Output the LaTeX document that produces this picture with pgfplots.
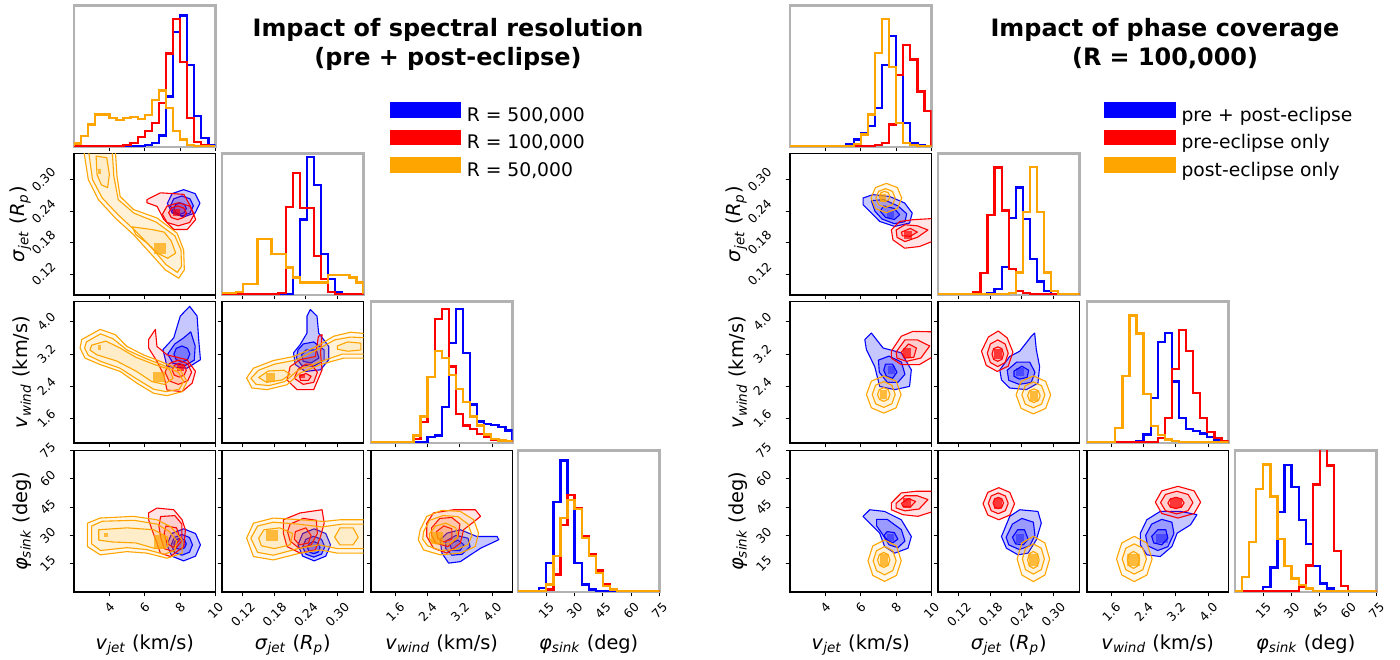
\documentclass[border=0pt]{standalone}
\usepackage{fontspec}
\setmainfont{DejaVu Sans}
\usepackage{graphicx}
\usepackage{pgfplots}
\pgfplotsset{compat=1.18}
\definecolor{mplorange}{RGB}{255,165,0}
\newcommand{\rt}[1]{\rotatebox{45}{#1}}
\newcommand{\tickfont}{\fontsize{6.2}{7}\selectfont}
\newcommand{\labfont}{\fontsize{9.7}{11}\selectfont}
\newcommand{\LabV}{\textit{v}\textsubscript{\textit{jet}} (km/s)}
\newcommand{\LabS}{\textit{σ}\textsubscript{\textit{jet}} (\textit{R}\textsubscript{\textit{p}})}
\newcommand{\LabW}{\textit{v}\textsubscript{\textit{wind}} (km/s)}
\newcommand{\LabP}{\textit{φ}\textsubscript{\textit{sink}} (deg)}

\tikzset{
  hb/.style={const plot, blue, line width=1.15bp},
  hr/.style={const plot, red, line width=1.15bp},
  ho/.style={const plot, mplorange, line width=1.15bp},
  cb/.style={blue, line width=0.55bp, line join=round, fill=blue, fill opacity=0.22},
  cr/.style={red, line width=0.55bp, line join=round, fill=red, fill opacity=0.1},
  co/.style={mplorange, line width=0.55bp, line join=round, fill=mplorange, fill opacity=0.08},
  qb/.style={draw=none, fill=blue, fill opacity=0.4},
  qr/.style={draw=none, fill=red, fill opacity=0.7},
  qo/.style={draw=none, fill=mplorange, fill opacity=0.7},
}

\pgfplotsset{
  cp/.style={scale only axis, width=70.75bp, height=70.75bp, anchor=south west,
    tick pos=left, tick align=outside, major tick length=2.2bp,
    tick style={black, line width=0.5bp},
    axis line style={line width=0.6bp},
    /pgf/number format/assume math mode=true,
    ticklabel style={font=\tickfont, inner sep=0pt},
    xticklabel style={anchor=north}, yticklabel style={anchor=east},
    xticklabel shift=2.55bp, yticklabel shift=6.3bp,
    xticklabels={}, yticklabels={},
    every axis x label/.style={at={(0.5,-0.3)}, anchor=north, inner sep=0pt, font=\labfont},
    every axis y label/.style={at={(-0.3,0.5)}, rotate=90, anchor=south, inner sep=0pt, font=\labfont}},
  diag/.style={cp, axis line style={draw=black!30, line width=1.1bp},
    xmin=0, xmax=20, ymin=-3, ymax=425, ytick=\empty},
  dv/.style={diag, xtick={5,10,15,20}},
  ds/.style={diag, xtick={2.963,7.407,11.852,16.296}},
  dw/.style={diag, xtick={3.429,8,12.571,17.143}},
  dp/.style={diag, xtick={4,8,12,16,20}},
  vx/.style={cp, xmin=2, xmax=10, xtick={4,6,8,10}},
  sx/.style={cp, xmin=0.08, xmax=0.35, xtick={0.12,0.18,0.24,0.30}},
  wx/.style={cp, xmin=1, xmax=4.5, xtick={1.6,2.4,3.2,4.0}},
  sy/.style={ymin=0.08, ymax=0.35, ytick={0.12,0.18,0.24,0.30}},
  wy/.style={ymin=1, ymax=4.5, ytick={1.6,2.4,3.2,4.0}},
  py/.style={ymin=0, ymax=75, ytick={15,30,45,60,75}},
  vxl/.style={xticklabels={\rt{4},\rt{6},\rt{8},\rt{10}}, xlabel={\LabV}},
  sxl/.style={xticklabels={\rt{0.12},\rt{0.18},\rt{0.24},\rt{0.30}}, xlabel={\LabS}},
  wxl/.style={xticklabels={\rt{1.6},\rt{2.4},\rt{3.2},\rt{4.0}}, xlabel={\LabW}},
  pxl/.style={xticklabels={\rt{15},\rt{30},\rt{45},\rt{60},\rt{75}}, xlabel={\LabP}},
  syl/.style={yticklabels={\rt{0.12},\rt{0.18},\rt{0.24},\rt{0.30}}, ylabel={\LabS}},
  wyl/.style={yticklabels={\rt{1.6},\rt{2.4},\rt{3.2},\rt{4.0}}, ylabel={\LabW}},
  pyl/.style={yticklabels={\rt{15},\rt{30},\rt{45},\rt{60},\rt{75}}, ylabel={\LabP}},
  leg/.style={legend style={at={(#1,0.323)}, anchor=north west, draw=none, fill=none,
      inner sep=0pt, font=\fontsize{9.4}{11}\selectfont, row sep=2.25bp,
      nodes={inner sep=0pt, text height=7bp, text depth=2bp},
      /tikz/every odd column/.append style={column sep=3bp}},
    legend cell align=left,
    legend image code/.code={\fill[##1] (0bp,-0.2bp) rectangle (34.5bp,6.6bp);}},
}

\begin{document}
\begin{tikzpicture}
\useasboundingbox (0,0) rectangle (700bp,330bp);

% ---------------- left corner: spectral resolution ----------------
\node[anchor=base, font=\fontsize{12}{14}\selectfont\bfseries] at (224bp,311.75bp) {Impact of spectral resolution};
\node[anchor=base, font=\fontsize{12}{14}\selectfont\bfseries] at (224bp,297.25bp) {(pre + post-eclipse)};

\begin{axis}[dv, at={(37bp,256.5bp)}, leg=2.227]
\addplot[hb] coordinates {(0,0) (10,3) (11,10) (12,32) (13,150) (14,345) (15,395) (16,245) (17,90) (18,25) (19,4) (20,0)};
\addlegendentry{R = 500,000}
\addplot[hr] coordinates {(0,0) (7,3) (8,10) (9,28) (10,45) (11,70) (12,130) (13,280) (14,385) (15,255) (16,85) (17,12) (18,4) (19,0) (20,0)};
\addlegendentry{R = 100,000}
\addplot[ho] coordinates {(0,0) (0,8) (1,30) (2,65) (3,95) (4,95) (5,85) (6,78) (7,85) (8,88) (9,82) (10,93) (11,140) (12,168) (13,115) (14,45) (15,20) (16,3) (17,0) (20,0)};
\addlegendentry{R = 50,000}
\end{axis}

\begin{axis}[vx, sy, syl, at={(37bp,182.5bp)}]
\addplot[cb] coordinates {(9.12,0.255) (8.85,0.2735) (8.2,0.281) (7.55,0.2735) (7.28,0.255) (7.55,0.2365) (8.2,0.229) (8.85,0.2365)} --cycle;
\addplot[cb] coordinates {(8.75,0.25) (8.56,0.2635) (8.1,0.269) (7.64,0.2635) (7.45,0.25) (7.64,0.2365) (8.1,0.231) (8.56,0.2365)} --cycle;
\addplot[cb] coordinates {(8.35,0.245) (8.25,0.2528) (8.0,0.256) (7.75,0.2528) (7.65,0.245) (7.75,0.2372) (8.0,0.234) (8.25,0.2372)} --cycle;
\addplot[cr] coordinates {(6.13,0.262) (6.89,0.275) (8.21,0.272) (8.59,0.249) (8.88,0.224) (8.40,0.205) (7.64,0.205) (7.08,0.224) (6.70,0.249) (6.13,0.256)} --cycle;
\addplot[cr] coordinates {(8.8,0.234) (8.54,0.2496) (7.9,0.256) (7.26,0.2496) (7.0,0.234) (7.26,0.2184) (7.9,0.212) (8.54,0.2184)} --cycle;
\addplot[cr] coordinates {(8.35,0.237) (8.2,0.2462) (7.85,0.25) (7.5,0.2462) (7.35,0.237) (7.5,0.2278) (7.85,0.224) (8.2,0.2278)} --cycle;
\addplot[qr] coordinates {(7.6,0.23) (8.0,0.23) (8.0,0.245) (7.6,0.245)} --cycle;
\addplot[co] coordinates {(2.53,0.36) (2.81,0.30) (3.38,0.262) (4.33,0.227) (5.37,0.195) (6.31,0.160) (7.16,0.128) (7.92,0.112) (8.24,0.128) (8.20,0.166) (7.83,0.198) (6.69,0.227) (5.37,0.243) (4.61,0.268) (4.43,0.307) (4.33,0.36)} --cycle;
\addplot[co] coordinates {(2.8,0.36) (3.05,0.30) (3.6,0.265) (4.5,0.233) (5.45,0.203) (6.4,0.17) (7.2,0.138) (7.85,0.123) (8.08,0.135) (8.05,0.166) (7.7,0.193) (6.65,0.219) (5.4,0.236) (4.5,0.262) (4.25,0.307) (4.15,0.36)} --cycle;
\addplot[co] coordinates {(3.25,0.345) (3.85,0.342) (4.0,0.31) (3.9,0.285) (3.55,0.29) (3.3,0.31)} --cycle;
\addplot[co] coordinates {(5.3,0.21) (6.4,0.205) (7.1,0.2) (7.5,0.183) (7.75,0.16) (7.3,0.15) (6.7,0.16) (6.1,0.18) (5.5,0.195)} --cycle;
\addplot[qo] coordinates {(6.55,0.159) (7.2,0.159) (7.2,0.18) (6.55,0.18)} --cycle;
\addplot[qo] coordinates {(3.35,0.311) (3.55,0.311) (3.55,0.321) (3.35,0.321)} --cycle;
\end{axis}

\begin{axis}[ds, at={(111bp,182.5bp)}]
\addplot[hb] coordinates {(0,0) (10,50) (11,225) (12,415) (13,330) (14,120) (15,45) (16,5) (17,0) (20,0)};
\addplot[hr] coordinates {(0,0) (8,3) (9,263) (10,367) (11,260) (12,260) (13,115) (14,45) (15,5) (16,0) (20,0)};
\addplot[ho] coordinates {(0,0) (0,2) (2,5) (3,30) (5,167) (7,120) (9,80) (10,50) (11,35) (15,57) (18,50) (19,35) (20,0)};
\end{axis}

\begin{axis}[vx, wy, wyl, at={(37bp,108.5bp)}]
\addplot[cb] coordinates {(8.54,4.38) (8.96,4.14) (9.05,3.56) (9.15,3.06) (8.39,2.85) (7.26,2.89) (7.03,3.31) (7.64,3.60) (8.01,4.14)} --cycle;
\addplot[cb] coordinates {(8.6,3.75) (8.85,3.4) (8.8,3.05) (8.3,2.92) (7.6,2.97) (7.3,3.2) (7.7,3.45) (8.2,3.6)} --cycle;
\addplot[cb] coordinates {(8.55,3.2) (8.42,3.34) (8.1,3.4) (7.78,3.34) (7.65,3.2) (7.78,3.06) (8.1,3.0) (8.42,3.06)} --cycle;
\addplot[cr] coordinates {(6.22,3.56) (6.60,3.81) (6.69,3.39) (7.26,3.18) (8.39,3.06) (8.87,2.77) (8.68,2.48) (8.11,2.27) (7.26,2.31) (7.07,2.69) (6.69,3.02) (6.22,3.35)} --cycle;
\addplot[cr] coordinates {(8.65,2.75) (8.43,2.96) (7.9,3.05) (7.37,2.96) (7.15,2.75) (7.37,2.54) (7.9,2.45) (8.43,2.54)} --cycle;
\addplot[cr] coordinates {(8.35,2.8) (8.23,2.92) (7.95,2.97) (7.67,2.92) (7.55,2.8) (7.67,2.68) (7.95,2.63) (8.23,2.68)} --cycle;
\addplot[qr] coordinates {(7.85,2.78) (8.2,2.78) (8.2,2.92) (7.85,2.92)} --cycle;
\addplot[co] coordinates {(2.44,3.56) (3.48,3.81) (4.33,3.68) (4.99,3.39) (5.93,3.18) (6.88,3.02) (8.01,2.81) (8.39,2.52) (8.11,2.27) (7.26,2.17) (6.50,2.23) (5.56,2.48) (4.61,2.77) (3.48,2.94) (2.62,3.10) (2.34,3.35)} --cycle;
\addplot[co] coordinates {(2.7,3.5) (3.5,3.7) (4.2,3.58) (5.0,3.3) (6.0,3.1) (7.0,2.93) (7.9,2.75) (8.2,2.52) (7.95,2.33) (7.2,2.27) (6.5,2.33) (5.6,2.57) (4.6,2.85) (3.5,3.02) (2.8,3.17) (2.6,3.35)} --cycle;
\addplot[co] coordinates {(3.0,3.42) (3.8,3.52) (4.6,3.35) (5.5,3.12) (6.5,2.95) (7.4,2.82) (7.6,2.6) (7.1,2.45) (6.4,2.52) (5.5,2.78) (4.4,3.03) (3.3,3.18) (2.9,3.3)} --cycle;
\addplot[qo] coordinates {(6.45,2.5) (7.15,2.5) (7.15,2.75) (6.45,2.75)} --cycle;
\addplot[qo] coordinates {(3.35,3.3) (3.55,3.3) (3.55,3.42) (3.35,3.42)} --cycle;
\end{axis}

\begin{axis}[sx, wy, at={(111bp,108.5bp)}]
\addplot[cb] coordinates {(0.2485,4.30) (0.2613,4.14) (0.2644,3.72) (0.2836,3.39) (0.2836,3.06) (0.268,2.81) (0.239,2.77) (0.2198,2.94) (0.2165,3.23) (0.229,3.43) (0.2422,3.72) (0.2422,4.14)} --cycle;
\addplot[cb] coordinates {(0.235,3.45) (0.255,3.5) (0.275,3.3) (0.275,3.05) (0.255,2.9) (0.232,2.92) (0.222,3.1) (0.225,3.3)} --cycle;
\addplot[cb] coordinates {(0.24,3.3) (0.26,3.3) (0.265,3.1) (0.25,2.98) (0.235,3.02) (0.232,3.18)} --cycle;
\addplot[cr] coordinates {(0.271,3.68) (0.268,3.23) (0.271,2.81) (0.255,2.32) (0.223,2.32) (0.204,2.56) (0.210,2.89) (0.229,3.06) (0.258,3.14) (0.264,3.64)} --cycle;
\addplot[cr] coordinates {(0.25,2.95) (0.262,2.75) (0.255,2.5) (0.235,2.45) (0.218,2.6) (0.225,2.82) (0.24,2.95)} --cycle;
\addplot[cr] coordinates {(0.24,2.72) (0.25,2.65) (0.245,2.55) (0.23,2.55) (0.228,2.65)} --cycle;
\addplot[qr] coordinates {(0.226,2.6) (0.238,2.6) (0.238,2.7) (0.226,2.7)} --cycle;
\addplot[co] coordinates {(0.127,2.61) (0.140,2.85) (0.178,3.04) (0.217,3.14) (0.261,3.39) (0.293,3.64) (0.325,3.74) (0.36,3.70) (0.36,3.10) (0.312,3.10) (0.268,2.94) (0.229,2.73) (0.204,2.44) (0.166,2.32) (0.137,2.36)} --cycle;
\addplot[co] coordinates {(0.135,2.6) (0.15,2.8) (0.18,2.95) (0.22,3.05) (0.26,3.3) (0.295,3.55) (0.325,3.62) (0.36,3.6) (0.36,3.2) (0.31,3.2) (0.265,3.0) (0.225,2.8) (0.20,2.52) (0.17,2.42) (0.145,2.45)} --cycle;
\addplot[co] coordinates {(0.15,2.62) (0.168,2.78) (0.198,2.8) (0.21,2.7) (0.195,2.56) (0.165,2.5)} --cycle;
\addplot[co] coordinates {(0.30,3.4) (0.32,3.5) (0.345,3.47) (0.345,3.3) (0.32,3.27) (0.30,3.32)} --cycle;
\addplot[qo] coordinates {(0.163,2.52) (0.182,2.52) (0.182,2.73) (0.163,2.73)} --cycle;
\end{axis}

\begin{axis}[dw, at={(185.5bp,108.5bp)}]
\addplot[hb] coordinates {(0,0) (8,15) (9,20) (10,105) (11,300) (12,403) (13,270) (14,113) (15,62) (16,55) (17,52) (18,45) (19,35) (20,0)};
\addplot[hr] coordinates {(0,0) (6,10) (7,60) (8,197) (9,372) (10,403) (11,228) (12,85) (13,50) (14,40) (15,25) (16,15) (17,8) (18,4) (19,3) (20,0)};
\addplot[ho] coordinates {(0,0) (6,20) (7,77) (8,197) (9,275) (10,255) (11,202) (12,160) (13,120) (14,77) (15,50) (16,23) (17,10) (18,5) (19,3) (20,0)};
\end{axis}

\begin{axis}[vx, py, vxl, pyl, at={(37bp,34bp)}]
\addplot[cb] coordinates {(9.15,25) (8.87,31) (8.2,33.5) (7.53,31) (7.25,25) (7.53,19) (8.2,16.5) (8.87,19)} --cycle;
\addplot[cb] coordinates {(8.7,25) (8.53,28.9) (8.1,30.5) (7.67,28.9) (7.5,25) (7.67,21.1) (8.1,19.5) (8.53,21.1)} --cycle;
\addplot[cb] coordinates {(8.35,25.5) (8.25,27.6) (8.0,28.5) (7.75,27.6) (7.65,25.5) (7.75,23.4) (8.0,22.5) (8.25,23.4)} --cycle;
\addplot[cr] coordinates {(6.22,41.9) (6.69,44.5) (7.64,43.6) (8.11,38.3) (8.30,33.0) (8.21,24.1) (7.45,18.8) (6.88,20.6) (6.69,25.9) (6.41,33.0) (6.22,38.3)} --cycle;
\addplot[cr] coordinates {(6.9,40) (7.7,40.5) (8.1,36) (8.1,27) (7.6,21.5) (7.1,23) (6.9,29) (6.8,35)} --cycle;
\addplot[cr] coordinates {(7.2,35) (7.8,34) (8.0,28) (7.6,23.5) (7.25,26) (7.1,31)} --cycle;
\addplot[co] coordinates {(2.76,36.5) (3.48,39.2) (5.37,40.1) (6.69,38.3) (7.45,34.7) (8.11,27.7) (8.11,20.6) (7.26,17.9) (6.13,20.6) (4.99,21.4) (3.48,19.7) (2.76,24.1)} --cycle;
\addplot[co] coordinates {(3.0,35) (3.6,37.5) (5.4,38) (6.7,36) (7.4,32) (7.8,27) (7.7,22) (7.1,20) (6.1,22.5) (5.0,23.5) (3.5,22) (3.0,25.5)} --cycle;
\addplot[co] coordinates {(3.4,33) (5.0,34) (6.5,33) (7.3,29) (7.3,24) (6.6,23) (5.5,26) (4.2,26.5) (3.4,27.5)} --cycle;
\addplot[qo] coordinates {(6.5,23) (7.2,23) (7.2,30) (6.5,30)} --cycle;
\addplot[qo] coordinates {(3.7,29) (3.9,29) (3.9,31.5) (3.7,31.5)} --cycle;
\end{axis}

\begin{axis}[sx, py, sxl, at={(111bp,34bp)}]
\addplot[cb] coordinates {(0.287,25) (0.278,31) (0.256,33.5) (0.234,31) (0.225,25) (0.234,19) (0.256,16.5) (0.278,19)} --cycle;
\addplot[cb] coordinates {(0.276,24) (0.27,27.9) (0.255,29.5) (0.24,27.9) (0.234,24) (0.24,20.1) (0.255,18.5) (0.27,20.1)} --cycle;
\addplot[cb] coordinates {(0.267,23.5) (0.2635,25.8) (0.255,26.7) (0.2465,25.8) (0.243,23.5) (0.2465,21.2) (0.255,20.3) (0.2635,21.2)} --cycle;
\addplot[cr] coordinates {(0.197,38.3) (0.229,41.9) (0.271,43.6) (0.275,36.5) (0.268,29.4) (0.258,22.3) (0.229,20.6) (0.204,24.1) (0.197,31.2)} --cycle;
\addplot[cr] coordinates {(0.21,36) (0.235,39) (0.26,38) (0.262,31) (0.25,25) (0.228,23) (0.21,27) (0.205,32)} --cycle;
\addplot[cr] coordinates {(0.22,32) (0.24,34) (0.25,30) (0.245,26) (0.228,25) (0.218,28)} --cycle;
\addplot[co] coordinates {(0.127,28.6) (0.140,36.5) (0.178,39.2) (0.229,38.3) (0.274,37.4) (0.306,38.3) (0.36,38.3) (0.36,20.6) (0.300,20.6) (0.268,22.3) (0.229,20.6) (0.178,17.0) (0.140,18.8)} --cycle;
\addplot[co] coordinates {(0.135,28.5) (0.148,35) (0.178,37) (0.225,36) (0.27,34.5) (0.31,36) (0.36,36) (0.36,23) (0.30,23) (0.265,25) (0.225,23) (0.178,19.5) (0.148,21)} --cycle;
\addplot[co] coordinates {(0.15,28.5) (0.16,33) (0.19,34) (0.215,31) (0.21,25) (0.18,23) (0.155,24.5)} --cycle;
\addplot[co] coordinates {(0.295,29) (0.305,34) (0.33,34) (0.34,29) (0.33,25) (0.305,25)} --cycle;
\addplot[qo] coordinates {(0.163,27) (0.186,27) (0.186,33) (0.163,33)} --cycle;
\end{axis}

\begin{axis}[wx, py, wxl, at={(185.5bp,34bp)}]
\addplot[cb] coordinates {(2.71,27.7) (2.88,31.2) (3.21,33.0) (3.62,29.4) (4.12,29.4) (4.16,27.7) (3.71,23.2) (3.21,16.1) (2.92,15.3) (2.755,20.6)} --cycle;
\addplot[cb] coordinates {(2.85,27) (3.1,30) (3.4,28.5) (3.45,24) (3.25,20) (3.0,19.5) (2.85,23)} --cycle;
\addplot[cb] coordinates {(2.95,25.5) (3.15,27.5) (3.3,25) (3.2,22) (3.0,22)} --cycle;
\addplot[cr] coordinates {(2.38,36.5) (2.546,41.9) (3.04,43.6) (3.58,43.6) (3.71,40.1) (3.50,36.5) (3.29,33.0) (3.21,25.9) (2.88,20.6) (2.546,23.2) (2.38,29.4)} --cycle;
\addplot[cr] coordinates {(2.5,34) (2.7,39) (3.0,39.5) (3.2,36) (3.15,29) (2.9,24) (2.6,26) (2.5,30)} --cycle;
\addplot[cr] coordinates {(2.62,32) (2.8,35) (3.0,33.5) (3.0,28) (2.8,26.5) (2.65,28.5)} --cycle;
\addplot[co] coordinates {(2.216,33.0) (2.38,40.1) (2.755,43.3) (3.21,42.7) (3.54,38.3) (3.66,31.2) (3.58,24.1) (3.21,20.6) (2.71,19.7) (2.30,22.3) (2.17,27.7)} --cycle;
\addplot[co] coordinates {(2.3,32) (2.45,38) (2.78,40.5) (3.15,40) (3.4,36) (3.5,30) (3.4,25) (3.1,22.5) (2.72,22) (2.4,24.5) (2.28,28)} --cycle;
\addplot[co] coordinates {(2.45,31) (2.6,35) (2.85,36.5) (3.1,34) (3.15,29) (2.95,25.5) (2.6,25.5) (2.45,28)} --cycle;
\addplot[qo] coordinates {(2.48,25.5) (2.78,25.5) (2.78,32) (2.48,32)} --cycle;
\end{axis}

\begin{axis}[dp, pxl, at={(259bp,34bp)}]
\addplot[hb] coordinates {(0,0) (3,10) (4,85) (5,270) (6,395) (7,290) (8,85) (9,20) (10,5) (11,0) (20,0)};
\addplot[hr] coordinates {(0,0) (4,5) (5,50) (6,200) (7,290) (8,250) (9,165) (10,110) (11,62) (12,20) (13,5) (14,0) (20,0)};
\addplot[ho] coordinates {(0,0) (4,20) (5,105) (6,220) (7,275) (8,248) (9,160) (10,105) (11,55) (12,15) (13,5) (14,0) (20,0)};
\end{axis}

% ---------------- right corner: phase coverage ----------------
\node[anchor=base, font=\fontsize{12}{14}\selectfont\bfseries] at (582.5bp,311.75bp) {Impact of phase coverage};
\node[anchor=base, font=\fontsize{12}{14}\selectfont\bfseries] at (582.5bp,297.25bp) {(R = 100,000)};

\begin{axis}[dv, at={(395bp,256.5bp)}, leg=2.218]
\addplot[hb] coordinates {(0,0) (8,5) (9,20) (10,40) (11,60) (12,115) (13,245) (14,332) (15,215) (16,70) (17,10) (18,3) (19,0) (20,0)};
\addlegendentry{pre + post-eclipse}
\addplot[hr] coordinates {(0,0) (12,3) (13,10) (14,65) (15,215) (16,305) (17,262) (18,165) (19,105) (20,0)};
\addlegendentry{pre-eclipse only}
\addplot[ho] coordinates {(0,0) (9,5) (10,35) (11,95) (12,282) (13,385) (14,240) (15,70) (16,10) (17,3) (18,0) (20,0)};
\addlegendentry{post-eclipse only}
\end{axis}

\begin{axis}[vx, sy, syl, at={(395bp,182.5bp)}]
\addplot[cb] coordinates {(6.13,0.265) (6.69,0.2715) (7.63,0.268) (8.48,0.2556) (8.91,0.2364) (8.76,0.2173) (7.92,0.2108) (7.07,0.2204) (6.60,0.2364) (6.13,0.2523)} --cycle;
\addplot[cb] coordinates {(6.6,0.26) (7.3,0.262) (8.1,0.25) (8.6,0.235) (8.5,0.22) (7.9,0.216) (7.2,0.225) (6.8,0.24)} --cycle;
\addplot[cb] coordinates {(7.3,0.25) (7.9,0.245) (8.2,0.233) (7.9,0.224) (7.4,0.228) (7.1,0.24)} --cycle;
\addplot[qb] coordinates {(7.5,0.226) (7.9,0.226) (7.9,0.24) (7.5,0.24)} --cycle;
\addplot[cr] coordinates {(7.73,0.2045) (8.20,0.2204) (8.95,0.2236) (10.1,0.226) (10.1,0.183) (9.32,0.1725) (8.48,0.1693) (7.82,0.1853)} --cycle;
\addplot[cr] coordinates {(8.0,0.204) (8.5,0.214) (9.2,0.212) (9.8,0.204) (9.2,0.19) (8.5,0.182) (8.05,0.19)} --cycle;
\addplot[cr] coordinates {(8.3,0.2) (8.8,0.207) (9.2,0.2) (8.8,0.192) (8.35,0.193)} --cycle;
\addplot[qr] coordinates {(8.45,0.187) (8.9,0.187) (8.9,0.203) (8.45,0.203)} --cycle;
\addplot[co] coordinates {(8.32,0.265) (8.07,0.285) (7.45,0.293) (6.83,0.285) (6.58,0.265) (6.83,0.245) (7.45,0.237) (8.07,0.245)} --cycle;
\addplot[co] coordinates {(7.95,0.265) (7.79,0.2778) (7.4,0.283) (7.01,0.2778) (6.85,0.265) (7.01,0.2522) (7.4,0.247) (7.79,0.2522)} --cycle;
\addplot[co] coordinates {(7.65,0.268) (7.56,0.275) (7.35,0.278) (7.14,0.275) (7.05,0.268) (7.14,0.261) (7.35,0.258) (7.56,0.261)} --cycle;
\addplot[qo] coordinates {(7.1,0.258) (7.45,0.258) (7.45,0.272) (7.1,0.272)} --cycle;
\end{axis}

\begin{axis}[ds, at={(469bp,182.5bp)}]
\addplot[hb] coordinates {(0,0) (7,3) (8,15) (9,82) (10,230) (11,322) (12,227) (13,105) (14,38) (15,10) (16,0) (20,0)};
\addplot[hr] coordinates {(0,0) (5,7) (6,63) (7,238) (8,383) (9,253) (10,75) (11,10) (12,3) (13,0) (20,0)};
\addplot[ho] coordinates {(0,0) (10,3) (11,65) (12,247) (13,385) (14,247) (15,65) (16,10) (17,0) (20,0)};
\end{axis}

\begin{axis}[vx, wy, wyl, at={(395bp,108.5bp)}]
\addplot[cb] coordinates {(6.23,3.557) (6.60,3.72) (7.26,3.35) (8.29,3.23) (8.86,2.81) (8.76,2.40) (7.92,2.32) (7.07,2.40) (6.79,2.89) (6.32,3.31)} --cycle;
\addplot[cb] coordinates {(7.0,3.05) (7.6,3.15) (8.3,3.0) (8.5,2.7) (8.1,2.5) (7.5,2.5) (7.05,2.75)} --cycle;
\addplot[cb] coordinates {(7.4,2.95) (7.8,2.95) (8.05,2.75) (7.8,2.6) (7.45,2.65) (7.3,2.8)} --cycle;
\addplot[qb] coordinates {(7.55,2.7) (7.95,2.7) (7.95,2.9) (7.55,2.9)} --cycle;
\addplot[cr] coordinates {(7.73,3.27) (8.29,3.64) (8.95,3.76) (10.1,3.75) (10.1,3.14) (9.32,2.94) (8.29,2.94) (7.73,3.1)} --cycle;
\addplot[cr] coordinates {(8.0,3.25) (8.5,3.55) (9.2,3.55) (9.9,3.4) (9.4,3.1) (8.6,3.02) (8.05,3.1)} --cycle;
\addplot[cr] coordinates {(8.3,3.25) (8.7,3.45) (9.15,3.35) (9.0,3.12) (8.5,3.1)} --cycle;
\addplot[qr] coordinates {(8.4,3.1) (8.85,3.1) (8.85,3.35) (8.4,3.35)} --cycle;
\addplot[co] coordinates {(8.28,2.2) (8.0,2.53) (7.3,2.66) (6.6,2.53) (6.32,2.2) (6.6,1.87) (7.3,1.74) (8.0,1.87)} --cycle;
\addplot[co] coordinates {(7.95,2.2) (7.76,2.43) (7.3,2.52) (6.84,2.43) (6.65,2.2) (6.84,1.97) (7.3,1.88) (7.76,1.97)} --cycle;
\addplot[co] coordinates {(7.65,2.2) (7.55,2.32) (7.3,2.37) (7.05,2.32) (6.95,2.2) (7.05,2.08) (7.3,2.03) (7.55,2.08)} --cycle;
\addplot[qo] coordinates {(7.1,2.08) (7.5,2.08) (7.5,2.3) (7.1,2.3)} --cycle;
\end{axis}

\begin{axis}[sx, wy, at={(469bp,108.5bp)}]
\addplot[cb] coordinates {(0.1979,2.81) (0.2169,3.14) (0.2359,3.27) (0.2581,3.64) (0.2644,3.72) (0.2676,3.31) (0.2739,2.89) (0.2707,2.48) (0.2486,2.32) (0.2169,2.36) (0.2011,2.56)} --cycle;
\addplot[cb] coordinates {(0.212,2.8) (0.23,3.0) (0.255,3.0) (0.265,2.75) (0.258,2.5) (0.235,2.45) (0.215,2.55)} --cycle;
\addplot[cb] coordinates {(0.225,2.78) (0.24,2.9) (0.253,2.8) (0.25,2.62) (0.235,2.58) (0.225,2.65)} --cycle;
\addplot[qb] coordinates {(0.228,2.65) (0.245,2.65) (0.245,2.85) (0.228,2.85)} --cycle;
\addplot[cr] coordinates {(0.223,3.25) (0.212,3.6) (0.195,3.77) (0.176,3.62) (0.163,3.27) (0.172,2.92) (0.193,2.77) (0.214,2.9)} --cycle;
\addplot[cr] coordinates {(0.214,3.22) (0.208,3.45) (0.194,3.55) (0.18,3.45) (0.174,3.22) (0.18,2.99) (0.194,2.89) (0.208,2.99)} --cycle;
\addplot[cr] coordinates {(0.205,3.2) (0.202,3.33) (0.194,3.38) (0.186,3.33) (0.183,3.2) (0.186,3.07) (0.194,3.02) (0.202,3.07)} --cycle;
\addplot[qr] coordinates {(0.187,3.08) (0.202,3.08) (0.202,3.32) (0.187,3.32)} --cycle;
\addplot[co] coordinates {(0.295,2.19) (0.2854,2.524) (0.262,2.66) (0.2386,2.524) (0.229,2.19) (0.2386,1.856) (0.262,1.72) (0.2854,1.856)} --cycle;
\addplot[co] coordinates {(0.284,2.19) (0.2776,2.417) (0.262,2.51) (0.2464,2.417) (0.24,2.19) (0.2464,1.963) (0.262,1.87) (0.2776,1.963)} --cycle;
\addplot[co] coordinates {(0.275,2.17) (0.2715,2.29) (0.263,2.34) (0.2545,2.29) (0.251,2.17) (0.2545,2.05) (0.263,2.0) (0.2715,2.05)} --cycle;
\addplot[qo] coordinates {(0.255,2.05) (0.27,2.05) (0.27,2.28) (0.255,2.28)} --cycle;
\end{axis}

\begin{axis}[dw, at={(543.5bp,108.5bp)}]
\addplot[hb] coordinates {(0,0) (7,3) (8,23) (9,133) (10,303) (11,330) (12,183) (13,73) (14,40) (15,33) (16,26) (17,15) (18,8) (19,0) (20,0)};
\addplot[hr] coordinates {(0,0) (10,13) (11,73) (12,221) (13,338) (14,276) (15,148) (16,73) (17,30) (18,13) (19,3) (20,0)};
\addplot[ho] coordinates {(0,0) (4,43) (5,200) (6,383) (7,328) (8,146) (9,48) (10,21) (11,8) (12,3) (13,0) (20,0)};
\end{axis}

\begin{axis}[vx, py, vxl, pyl, at={(395bp,34bp)}]
\addplot[cb] coordinates {(6.13,40.1) (6.51,43.6) (7.35,42.7) (8.29,38.3) (8.86,29.4) (8.67,23.2) (7.92,20.6) (7.35,24.1) (7.07,31.2) (6.60,35.6)} --cycle;
\addplot[cb] coordinates {(6.9,38.5) (7.5,38.5) (8.3,33) (8.5,27) (8.1,23.5) (7.6,25) (7.2,31) (6.9,35)} --cycle;
\addplot[cb] coordinates {(7.5,32) (7.9,31.5) (8.1,28) (7.8,26) (7.5,27.5) (7.3,30)} --cycle;
\addplot[qb] coordinates {(7.5,27) (7.9,27) (7.9,31) (7.5,31)} --cycle;
\addplot[cr] coordinates {(7.73,47.2) (8.29,52.5) (9.14,53.4) (10.1,53.4) (10.1,42.7) (9.23,40.1) (8.38,41.0) (7.73,43.6)} --cycle;
\addplot[cr] coordinates {(8.0,47) (8.5,51) (9.2,51) (9.8,49) (9.3,44) (8.5,43) (8.0,44.5)} --cycle;
\addplot[cr] coordinates {(8.3,47) (8.7,49.5) (9.1,48) (8.8,45) (8.4,45.3)} --cycle;
\addplot[qr] coordinates {(8.4,44.5) (8.85,44.5) (8.85,50) (8.4,50)} --cycle;
\addplot[co] coordinates {(8.29,16.6) (8.02,24.4) (7.35,27.6) (6.68,24.4) (6.41,16.6) (6.68,8.8) (7.35,5.6) (8.02,8.8)} --cycle;
\addplot[co] coordinates {(8.0,16.6) (7.81,21.9) (7.35,24.1) (6.89,21.9) (6.7,16.6) (6.89,11.3) (7.35,9.1) (7.81,11.3)} --cycle;
\addplot[co] coordinates {(7.65,17) (7.55,19.8) (7.3,21) (7.05,19.8) (6.95,17) (7.05,14.2) (7.3,13) (7.55,14.2)} --cycle;
\addplot[qo] coordinates {(7.1,14) (7.55,14) (7.55,20) (7.1,20)} --cycle;
\end{axis}

\begin{axis}[sx, py, sxl, at={(469bp,34bp)}]
\addplot[cb] coordinates {(0.2011,29.4) (0.2169,40.1) (0.2359,43.6) (0.2707,42.7) (0.2771,36.5) (0.2676,27.7) (0.2518,20.6) (0.2327,19.7) (0.2106,23.2)} --cycle;
\addplot[cb] coordinates {(0.21,29) (0.222,36) (0.24,39) (0.262,37) (0.265,30) (0.255,24.5) (0.235,22.5) (0.215,25)} --cycle;
\addplot[cb] coordinates {(0.222,29) (0.232,33) (0.245,33) (0.252,28) (0.243,25) (0.228,25.5)} --cycle;
\addplot[qb] coordinates {(0.228,26) (0.245,26) (0.245,31) (0.228,31)} --cycle;
\addplot[cr] coordinates {(0.226,46.8) (0.217,52.8) (0.196,55.3) (0.175,52.8) (0.166,46.8) (0.175,40.8) (0.196,38.3) (0.217,40.8)} --cycle;
\addplot[cr] coordinates {(0.214,47) (0.2085,50.9) (0.195,52.5) (0.1815,50.9) (0.176,47) (0.1815,43.1) (0.195,41.5) (0.2085,43.1)} --cycle;
\addplot[cr] coordinates {(0.205,47.2) (0.202,49.3) (0.195,50.2) (0.188,49.3) (0.185,47.2) (0.188,45.1) (0.195,44.2) (0.202,45.1)} --cycle;
\addplot[qr] coordinates {(0.187,44) (0.203,44) (0.203,50) (0.187,50)} --cycle;
\addplot[co] coordinates {(0.293,17.5) (0.284,26) (0.262,29.5) (0.24,26) (0.231,17.5) (0.24,9) (0.262,5.5) (0.284,9)} --cycle;
\addplot[co] coordinates {(0.283,17.5) (0.277,23.2) (0.262,25.5) (0.247,23.2) (0.241,17.5) (0.247,11.8) (0.262,9.5) (0.277,11.8)} --cycle;
\addplot[co] coordinates {(0.273,17) (0.27,20.2) (0.262,21.5) (0.254,20.2) (0.251,17) (0.254,13.8) (0.262,12.5) (0.27,13.8)} --cycle;
\addplot[qo] coordinates {(0.254,14) (0.27,14) (0.27,20) (0.254,20)} --cycle;
\end{axis}

\begin{axis}[wx, py, wxl, at={(543.5bp,34bp)}]
\addplot[cb] coordinates {(2.32,31.2) (2.48,38.3) (2.81,42.7) (3.31,42.7) (3.72,41.0) (3.56,35.6) (3.23,31.2) (3.10,24.1) (2.81,18.8) (2.48,19.7) (2.32,25.0)} --cycle;
\addplot[cb] coordinates {(2.45,30) (2.6,36) (2.85,38.5) (3.1,37) (3.15,31) (3.0,24) (2.75,22) (2.5,24.5)} --cycle;
\addplot[cb] coordinates {(2.6,29.5) (2.75,33) (2.95,33) (3.0,28.5) (2.85,25) (2.65,26)} --cycle;
\addplot[qb] coordinates {(2.7,26) (3.0,26) (3.0,31) (2.7,31)} --cycle;
\addplot[cr] coordinates {(3.81,47.6) (3.65,53.6) (3.25,56) (2.85,53.6) (2.69,47.6) (2.85,41.6) (3.25,39.2) (3.65,41.6)} --cycle;
\addplot[cr] coordinates {(3.62,47.4) (3.5,51.7) (3.22,53.4) (2.94,51.7) (2.82,47.4) (2.94,43.1) (3.22,41.4) (3.5,43.1)} --cycle;
\addplot[cr] coordinates {(3.4,47.2) (3.34,49.3) (3.2,50.2) (3.06,49.3) (3.0,47.2) (3.06,45.1) (3.2,44.2) (3.34,45.1)} --cycle;
\addplot[qr] coordinates {(3.05,44.5) (3.35,44.5) (3.35,50) (3.05,50)} --cycle;
\addplot[co] coordinates {(2.61,17.5) (2.48,26) (2.17,29.5) (1.86,26) (1.73,17.5) (1.86,9) (2.17,5.5) (2.48,9)} --cycle;
\addplot[co] coordinates {(2.47,17.5) (2.38,23.2) (2.17,25.5) (1.96,23.2) (1.87,17.5) (1.96,11.8) (2.17,9.5) (2.38,11.8)} --cycle;
\addplot[co] coordinates {(2.3,17) (2.255,20.2) (2.15,21.5) (2.045,20.2) (2.0,17) (2.045,13.8) (2.15,12.5) (2.255,13.8)} --cycle;
\addplot[qo] coordinates {(2.0,14) (2.3,14) (2.3,20) (2.0,20)} --cycle;
\end{axis}

\begin{axis}[dp, pxl, at={(617.5bp,34bp)}]
\addplot[hb] coordinates {(0,0) (4,13) (5,71) (6,238) (7,381) (8,315) (9,215) (10,143) (11,75) (12,23) (13,8) (14,0) (20,0)};
\addplot[hr] coordinates {(0,0) (9,12) (10,77) (11,322) (12,470) (13,380) (14,122) (15,15) (16,0) (20,0)};
\addplot[ho] coordinates {(0,0) (1,43) (2,148) (3,308) (4,383) (5,286) (6,158) (7,75) (8,38) (9,18) (10,8) (11,0) (20,0)};
\end{axis}

\end{tikzpicture}
\end{document}
